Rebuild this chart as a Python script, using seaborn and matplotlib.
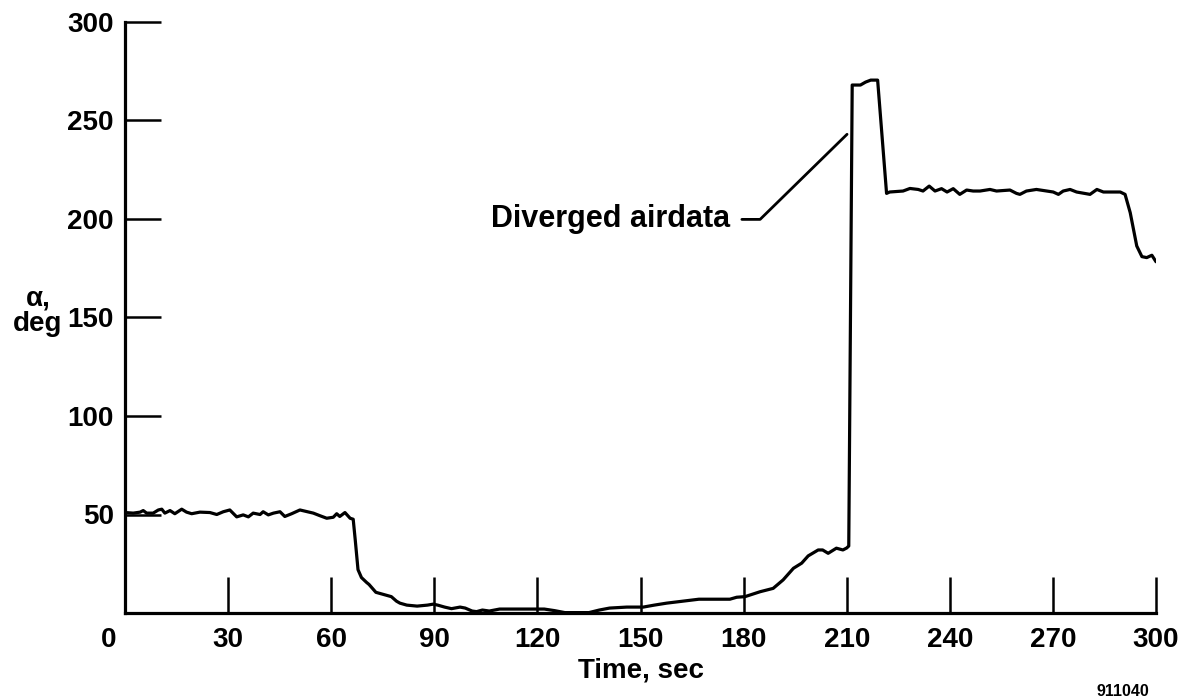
import matplotlib
matplotlib.use("Agg")
import matplotlib.pyplot as plt
import seaborn as sns
import pandas as pd

# ---- data ----
time_s = [0, 2.4, 4.4, 5.3, 6.3, 8.2, 9.7, 10.7, 11.6, 13.1, 14.5, 16.5, 17.9, 19.4,
          21.8, 24.7, 26.7, 28.6, 30.5, 32.5, 34.4, 35.9, 37.3, 39.3, 40.2, 41.7, 43.2,
          45.1, 46.5, 48.5, 50.9, 52.9, 54.8, 56.7, 58.7, 60.6, 61.6, 62.5, 64, 65.5,
          66.4, 67.0, 67.8, 68.8, 70.3, 71, 73, 76, 77.5, 79, 80, 82, 85, 88, 89.7, 91,
          93, 95, 97.5, 99, 101, 102.3, 104, 106, 109, 113, 119, 122, 125, 128, 135,
          138, 141, 146, 150.8, 154, 157.6, 162.4, 167, 176, 178, 180.4, 184.8, 188.6,
          191.5, 194.5, 196.9, 198.8, 201.7, 203, 204.6, 207, 208.9, 210, 210.6, 211.6,
          214, 215.5, 217, 219, 221.6, 222.5, 226.4, 228.4, 230.8, 232.2, 234, 235.7,
          237.6, 239.2, 241, 242.9, 244.9, 246.8, 248.8, 251.7, 253.6, 257.5, 259.4,
          260.4, 262.3, 265.2, 268.2, 270.1, 271.6, 273, 275, 276.9, 280.8, 282.8,
          284.7, 289.6, 291, 292.5, 294.4, 295.9, 297.3, 298.8, 300]
alpha_deg = [51, 50.7, 51.2, 52, 50.7, 50.7, 52.3, 52.7, 50.7, 52, 50.4, 52.7, 51.2, 50.4,
             51.2, 51, 50, 51.4, 52.3, 48.8, 49.8, 48.8, 50.7, 50, 51.4, 49.8, 50.7,
             51.4, 49, 50.4, 52.3, 51.5, 50.7, 49.4, 48.1, 48.6, 50.4, 49, 51, 48.1,
             47.6, 37, 22, 18, 15.5, 14.5, 10.5, 9, 8.3, 6, 5, 4, 3.5, 4, 4.5, 4,
             3, 2.2, 3, 2.5, 1, 0.7, 1.5, 1, 2, 2, 2, 2, 1.2, 0.2, 0.2,
             1.5, 2.5, 3, 3, 4, 5, 6, 7, 7, 8, 8.3, 10.8, 12.5,
             16.8, 22.7, 25.3, 29, 32, 32, 30.3, 32.9, 32, 33, 34, 268,
             268, 269.5, 270.5, 270.5, 213, 213.7, 214.2, 215.5, 215, 214.2, 216.7, 214.2,
             215.4, 213.7, 215.4, 212.5, 214.7, 214.2, 214.2, 215, 214.2, 214.7, 213,
             212.5, 214.2, 215, 214.2, 213.7, 212.5, 214.2, 215, 213.7, 212.5, 215,
             213.7, 213.7, 212.5, 203.2, 186.3, 180.9, 180.4, 181.6, 178.3]

x_ticks = [0, 30, 60, 90, 120, 150, 180, 210, 240, 270, 300]
x_tick_labels = ["", "30", "60", "90", "120", "150", "180", "210", "240", "270", "300"]
y_ticks = [50, 100, 150, 200, 250, 300]
y_tick_labels = ["50", "100", "150", "200", "250", "300"]

note_text = "Diverged airdata"
leader_x = [179.5, 184.8, 210.1]
leader_y = [199.8, 199.8, 243.0]

df = pd.DataFrame({"t": time_s, "a": alpha_deg})

sns.set_style("white")
plt.rcParams["font.family"] = ["Liberation Sans", "DejaVu Sans"]
plt.rcParams["font.weight"] = "bold"
plt.rcParams["text.color"] = "black"
plt.rcParams["axes.labelcolor"] = "black"
plt.rcParams["xtick.color"] = "black"
plt.rcParams["ytick.color"] = "black"

fig = plt.figure(figsize=(11.81, 7.0), dpi=100)
ax = fig.add_axes([125 / 1181, 1 - 613 / 700, (1156 - 125) / 1181, (613 - 22) / 700])

sns.lineplot(data=df, x="t", y="a", ax=ax, color="black", linewidth=2.3,
             sort=False, estimator=None)

ax.set_xlim(0, 300)
ax.set_ylim(0, 300)
ax.set_xticks(x_ticks)
ax.set_xticklabels(x_tick_labels, fontweight="bold")
ax.set_yticks(y_ticks)
ax.set_yticklabels(y_tick_labels, fontweight="bold")
ax.tick_params(axis="both", direction="in", length=26, width=1.8, labelsize=20,
               color="black", labelcolor="black", bottom=True, left=True,
               top=False, right=False)
ax.tick_params(axis="x", pad=10)
ax.tick_params(axis="y", pad=8)

for s in ["top", "right"]:
    ax.spines[s].set_visible(False)
for s in ["left", "bottom"]:
    ax.spines[s].set_linewidth(2.3)
    ax.spines[s].set_color("black")

# corner "0" label (shifted left of the origin, as in the reference)
ax.annotate("0", xy=(0, 0), xycoords=("data", "axes fraction"),
            xytext=(-12, -10), textcoords="offset points",
            ha="center", va="top", fontsize=20, fontweight="bold", color="black")

ax.set_xlabel("Time, sec", fontsize=20, fontweight="bold", color="black")
ax.xaxis.set_label_coords(0.5, -0.075)
ax.set_ylabel("")
fig.text(38 / 1181, 1 - 311 / 700, "\u03b1,\ndeg", ha="center", va="center",
         fontsize=20, fontweight="bold", linespacing=1.0, color="black")

# annotation
ax.plot(leader_x, leader_y, color="black", linewidth=2.0)
ax.text(176, 199.8, note_text, ha="right", va="center", fontsize=22,
        fontweight="bold", color="black")

fig.text(1123 / 1181, 1 - 691 / 700, "911040", ha="center", va="center",
         fontsize=11.5, fontweight="bold", color="black")

fig.savefig("out.png", dpi=100)
